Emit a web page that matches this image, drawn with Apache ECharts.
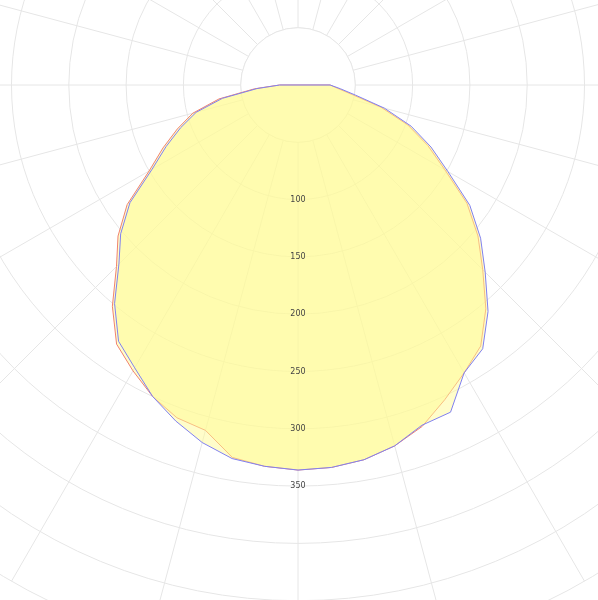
<!DOCTYPE html>
<html><head><meta charset="utf-8">
<script src="https://cdn.jsdelivr.net/npm/echarts@6/dist/echarts.min.js"></script>
<style>html,body{margin:0;padding:0;background:#fff}#c{width:598px;height:600px}</style>
</head><body><div id="c"></div>
<script>
const gammas=[0,5,10,15,20,25,30,35,40,45,50,55,60,65,70,75,80,85,90];
const c0=[336,335,332,326,317,303,290,278,255,228,205,180,148,125,102,75,48,35,28];
const c180=[336,334,330,312,309,300,288,276,252,224,205,182,150,130,112,95,70,38,16];
const c90=[336,335,332,326,316,315,290,281,258,231,208,183,151,128,105,78,51,37,28];
const c270=[336,334,331,323,312,300,285,273,249,221,202,179,147,127,109,92,67,36,16];
const radiusLabels=[100,150,200,250,300,350];
const angleLabels=[0,15,30,45,60,75,90];
const seriesNames=['C0/C180','C90/C270'];

const chart=echarts.init(document.getElementById('c'));
function curve(right,left){
  const pts=[];
  gammas.forEach((g,i)=>pts.push([right[i],g]));
  for(let i=gammas.length-1;i>=0;i--)pts.push([left[i],360-gammas[i]]);
  return pts;
}
function mk(name,right,left,color){
  const pts=curve(right,left);
  return {type:'custom',name:name,coordinateSystem:'polar',z:3,data:[[0,0]],
    renderItem:function(p,api){
      const xy=pts.map(d=>api.coord(d));
      return {type:'group',children:[
        {type:'polygon',shape:{points:xy},style:{fill:'rgba(255,252,150,0.5)',stroke:null}},
        {type:'polyline',shape:{points:xy.concat([xy[0]])},style:{fill:null,stroke:color,lineWidth:1}}
      ]};
    }};
}
chart.setOption({
  animation:false,
  polar:{center:[298,85],radius:573},
  angleAxis:{type:'value',min:0,max:360,interval:15,startAngle:270,clockwise:false,z:0,
    axisLine:{show:false},axisTick:{show:false},axisLabel:{show:false},
    splitLine:{show:true,lineStyle:{color:'#e6e6e6',width:1}}},
  radiusAxis:{type:'value',min:0,max:500,interval:50,z:0,
    axisLine:{show:false},axisTick:{show:false},axisLabel:{show:false},
    splitLine:{show:true,lineStyle:{color:'#e6e6e6',width:1}}},
  series:[mk(seriesNames[0],c0,c180,'#f0826e'),mk(seriesNames[1],c90,c270,'#8080f0')]
});
const ctr=chart.convertToPixel({polarIndex:0},[0,0]);
const r50=chart.convertToPixel({polarIndex:0},[50,0])[1]-ctr[1];
const els=[{type:'circle',z:1,shape:{cx:ctr[0],cy:ctr[1],r:r50},style:{fill:'#fff',stroke:'#e6e6e6',lineWidth:1}}];
radiusLabels.forEach(v=>{
  const p=chart.convertToPixel({polarIndex:0},[v,0]);
  els.push({type:'text',z:10,x:p[0],y:p[1],style:{text:String(v),font:'8px "DejaVu Sans"',fill:'#444',align:'center',verticalAlign:'middle'}});
});
const topEls=[];
topEls.push({type:'rect',shape:{x:0,y:540,width:598,height:60},style:{fill:'#fff'}});
topEls.push({type:'rect',shape:{x:0.5,y:2.5,width:596,height:538},style:{fill:null,stroke:'#a0a0a0',lineWidth:1}});
angleLabels.forEach(a=>{
  const p=chart.convertToPixel({polarIndex:0},[100,a]);
  const dx=p[0]-ctr[0],dy=p[1]-ctr[1];
  [1,-1].forEach(s=>{
    if(a===0&&s===-1)return;
    const ddx=dx*s;
    let t=Infinity;
    if(Math.abs(ddx)>1e-6)t=Math.min(t,(ddx>0?588-ctr[0]:10-ctr[0])/ddx);
    if(dy>1e-6)t=Math.min(t,(532-ctr[1])/dy);
    topEls.push({type:'text',x:ctr[0]+ddx*t,y:ctr[1]+dy*t,style:{text:a+'°',font:'8px "DejaVu Sans"',fill:'#444',align:'center',verticalAlign:'middle'}});
  });
});
topEls.push({type:'text',x:6,y:553,style:{text:'cd/klm',font:'9px "DejaVu Sans"',fill:'#444',verticalAlign:'middle'}});
topEls.push({type:'text',x:592,y:553,style:{text:'η = 100%',font:'9px "DejaVu Sans"',fill:'#444',align:'right',verticalAlign:'middle'}});
topEls.push({type:'line',shape:{x1:7,y1:573,x2:36,y2:573},style:{stroke:'#f0826e',lineWidth:1}});
topEls.push({type:'line',shape:{x1:7,y1:586,x2:36,y2:586},style:{stroke:'#8080f0',lineWidth:1}});
topEls.push({type:'text',x:42,y:573,style:{text:seriesNames[0],font:'8px "DejaVu Sans"',fill:'#444',verticalAlign:'middle'}});
topEls.push({type:'text',x:42,y:586,style:{text:seriesNames[1],font:'8px "DejaVu Sans"',fill:'#444',verticalAlign:'middle'}});
chart.setOption({graphic:[{elements:els,z:1},{zlevel:1,elements:topEls}]});
</script></body></html>
